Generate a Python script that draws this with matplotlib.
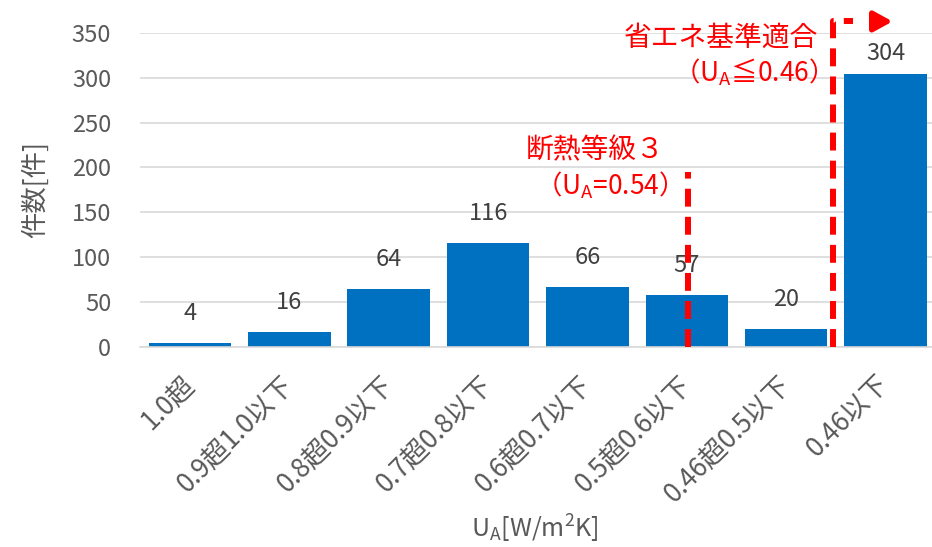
import matplotlib
matplotlib.use("Agg")
import matplotlib.pyplot as plt

plt.rcParams['font.family'] = ['Noto Sans CJK JP', 'DejaVu Sans']
plt.rcParams['mathtext.fontset'] = 'custom'
plt.rcParams['mathtext.rm'] = 'Noto Sans CJK JP'
plt.rcParams['mathtext.it'] = 'Noto Sans CJK JP'

categories = ["1.0超", "0.9超1.0以下", "0.8超0.9以下", "0.7超0.8以下",
              "0.6超0.7以下", "0.5超0.6以下", "0.46超0.5以下", "0.46以下"]
counts = [4, 16, 64, 116, 66, 57, 20, 304]
yticks = [0, 50, 100, 150, 200, 250, 300, 350]

fig = plt.figure(figsize=(9.32, 5.47), dpi=100)
ax = fig.add_axes([0.1505, 0.3665, 0.853, 0.573])

x = list(range(len(categories)))
ax.bar(x, counts, width=0.83, color='#0070C0', zorder=2)
for xi, v in zip(x, counts):
    ax.text(xi, min(v + 33, 327), str(v), ha='center', va='center', fontsize=17,
            color='#404040', zorder=3)

ax.set_xlim(-0.5, 7.5)
ax.set_ylim(0, 350)
ax.set_yticks(yticks)
ax.yaxis.grid(True, color='#D9D9D9', linewidth=1.2, zorder=0)
ax.set_axisbelow(True)
for s in ['top', 'right', 'left']:
    ax.spines[s].set_visible(False)
ax.spines['bottom'].set_color('#D9D9D9')
ax.spines['bottom'].set_linewidth(1.2)
ax.tick_params(axis='both', length=0, labelsize=17, labelcolor='#595959')
ax.tick_params(axis='y', pad=21)
ax.set_xticks(x)
ax.set_xticklabels(categories, rotation=45, ha='right', va='center', rotation_mode='anchor',
                   fontsize=19)
ax.tick_params(axis='x', pad=24)

ax.set_ylabel("件数[件]", fontsize=19, color='#595959', labelpad=16)
fig.text(0.574, 0.033, r"U$_\mathregular{A}$[W/m$^\mathregular{2}$K]", ha='center', va='center',
         fontsize=18, color='#595959')

red = '#FF0000'
dash = (0, (3.0, 1.7))
lw = 4.3
# 断熱等級3 line
ax.plot([5.01, 5.01], [0, 195], color=red, linewidth=lw, linestyle=dash, zorder=4,
        clip_on=False)
# 省エネ基準 bracket
ax.plot([6.47, 6.47, 6.67], [0, 363, 363], color=red, linewidth=lw, linestyle=dash,
        zorder=4, clip_on=False)
ax.annotate("", xy=(7.07, 363), xytext=(6.86, 363),
            arrowprops=dict(arrowstyle='-|>,head_length=1.0,head_width=0.55', color=red,
                            linewidth=lw * 0.9, mutation_scale=11, shrinkA=0, shrinkB=0),
            annotation_clip=False, zorder=4)

ax.text(6.32, 345, "省エネ基準適合", ha='right', va='center', fontsize=20, color=red)
ax.text(6.32, 306, r"（U$_\mathregular{A}$≦0.46）", ha='right', va='center', fontsize=19, color=red)
ax.text(4.08, 219, "断熱等級３", ha='center', va='center', fontsize=20, color=red)
ax.text(4.14, 180, r"（U$_\mathregular{A}$=0.54）", ha='center', va='center', fontsize=19, color=red)

fig.savefig("out.png", dpi=100)
